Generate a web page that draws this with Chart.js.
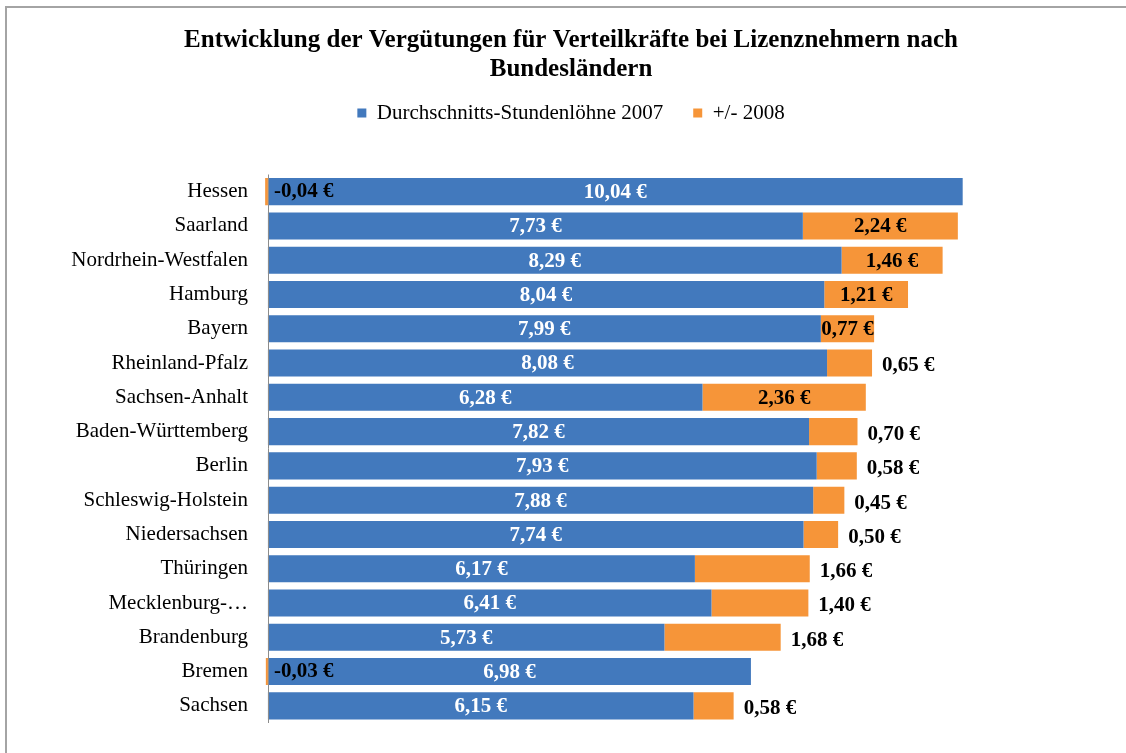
<!DOCTYPE html>
<html>
<head>
<meta charset="utf-8">
<script src="https://cdn.jsdelivr.net/npm/chart.js@4.4.1/dist/chart.umd.min.js"></script>
<style>
    body { margin: 0; background: #fff; overflow: hidden; }
    #wrap { position: relative; width: 1126px; height: 753px; }
    #frame { position: absolute; left: 5px; top: 6px; width: 1300px; height: 900px; border: 2px solid #a4a4a4; }
    #myChart { position: absolute; left: 0; top: 0; }
</style>
</head>
<body>
<div id="wrap">
    <div id="frame"></div>
    <canvas id="myChart" width="1126" height="753"></canvas>
</div>
<script>
const states = ['Hessen', 'Saarland', 'Nordrhein-Westfalen', 'Hamburg', 'Bayern', 'Rheinland-Pfalz',
    'Sachsen-Anhalt', 'Baden-Württemberg', 'Berlin', 'Schleswig-Holstein', 'Niedersachsen',
    'Thüringen', 'Mecklenburg-Vorpommern', 'Brandenburg', 'Bremen', 'Sachsen'];
const wages2007 = [10.04, 7.73, 8.29, 8.04, 7.99, 8.08, 6.28, 7.82, 7.93, 7.88, 7.74, 6.17, 6.41, 5.73, 6.98, 6.15];
const change2008 = [-0.04, 2.24, 1.46, 1.21, 0.77, 0.65, 2.36, 0.70, 0.58, 0.45, 0.50, 1.66, 1.40, 1.68, -0.03, 0.58];

// where the +/- 2008 label sits: inside the orange bar or right of it
const changeLabelPlace = ['start', 'inside', 'inside', 'inside', 'inside', 'outside', 'inside', 'outside',
    'outside', 'outside', 'outside', 'outside', 'outside', 'outside', 'start', 'outside'];

const serif = '"Liberation Serif", "Times New Roman", serif';
const ctx = document.getElementById('myChart').getContext('2d');

function euro(v) {
    return v.toFixed(2).replace('.', ',') + ' €';
}

const zeroLine = {
    id: 'zeroLine',
    afterDatasetsDraw(chart) {
        const c = chart.ctx;
        const x = Math.round(chart.scales.x.getPixelForValue(0)) + 0.5;
        c.save();
        c.strokeStyle = '#8c8c8c';
        c.lineWidth = 1;
        c.beginPath();
        c.moveTo(x, chart.chartArea.top);
        c.lineTo(x, chart.chartArea.bottom);
        c.stroke();
        c.restore();
    }
};

const barLabels = {
    id: 'barLabels',
    afterDraw(chart) {
        const c = chart.ctx;
        const zeroX = chart.scales.x.getPixelForValue(0);
        c.save();
        c.font = 'bold 21px ' + serif;
        c.textBaseline = 'middle';

        chart.getDatasetMeta(0).data.forEach((bar, i) => {
            c.fillStyle = '#ffffff';
            c.textAlign = 'center';
            c.fillText(euro(wages2007[i]), (bar.x + bar.base) / 2, bar.y + 1);
        });

        chart.getDatasetMeta(1).data.forEach((bar, i) => {
            const place = changeLabelPlace[i];
            c.fillStyle = '#000000';
            if (place === 'start') {
                c.textAlign = 'left';
                c.fillText(euro(change2008[i]), zeroX + 6, bar.y);
            } else if (place === 'inside') {
                c.textAlign = 'center';
                c.fillText(euro(change2008[i]), (bar.x + bar.base) / 2, bar.y + 1);
            } else {
                c.textAlign = 'left';
                c.fillText(euro(change2008[i]), bar.x + 10, bar.y + 3);
            }
        });
        c.restore();
    }
};

const myChart = new Chart(ctx, {
    type: 'bar',
    data: {
        labels: states,
        datasets: [{
            label: 'Durchschnitts-Stundenlöhne 2007',
            data: wages2007,
            backgroundColor: '#4279bd',
            categoryPercentage: 1,
            barPercentage: 0.79,
        }, {
            label: '+/- 2008',
            data: change2008,
            backgroundColor: '#f69539',
            categoryPercentage: 1,
            barPercentage: 0.79,
        }]
    },
    options: {
        indexAxis: 'y',
        responsive: false,
        animation: false,
        layout: {
            padding: { left: 16, right: 0, top: 0, bottom: 30 }
        },
        scales: {
            x: {
                stacked: true,
                display: false,
                min: -0.1,
                max: 12.4,
            },
            y: {
                stacked: true,
                grid: { display: false, drawTicks: false },
                border: { display: false },
                ticks: {
                    padding: 13,
                    color: '#000',
                    font: { family: serif, size: 21 },
                    callback: function (value) {
                        const s = this.getLabelForValue(value);
                        return s.length > 19 ? s.slice(0, 12) + '…' : s;
                    }
                },
                afterFit: function (scale) {
                    scale.width = 245;
                }
            }
        },
        plugins: {
            title: {
                display: true,
                text: ['Entwicklung der Vergütungen für Verteilkräfte bei Lizenznehmern nach', 'Bundesländern'],
                color: '#000',
                font: { family: serif, size: 25, weight: 'bold', lineHeight: 1.15 },
                padding: { top: 26, bottom: -11 }
            },
            legend: {
                display: true,
                labels: {
                    color: '#000',
                    boxWidth: 9,
                    boxHeight: 9,
                    padding: 30,
                    font: { family: serif, size: 21 }
                }
            },
            tooltip: { enabled: false }
        }
    },
    plugins: [zeroLine, barLabels, {
        id: 'legendGap',
        beforeInit(chart) {
            const fit = chart.legend.fit;
            chart.legend.fit = function () {
                fit.call(this);
                this.height += 41;
            };
        }
    }]
});
</script>
</body>
</html>
